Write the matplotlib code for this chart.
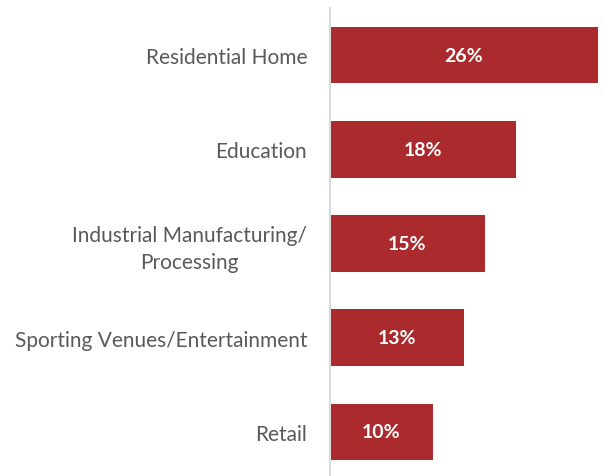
import matplotlib.pyplot as plt

categories = ["Residential Home", "Education", "Industrial Manufacturing/\nProcessing",
              "Sporting Venues/Entertainment", "Retail"]
shares = [26, 18, 15, 13, 10]
value_labels = ["26%", "18%", "15%", "13%", "10%"]

plt.rcParams['font.family'] = ['Lato', 'DejaVu Sans']

fig = plt.figure(figsize=(6.04, 4.77), dpi=100)
ax = fig.add_axes([330 / 604, -3 / 477, 268 / 604, 471 / 477])

bars = ax.barh(range(len(categories)), shares, height=0.6, color="#AB2A2D")
ax.set_xlim(0, 26)
ax.set_ylim(4.5, -0.5)

for b, lab in zip(bars, value_labels):
    ax.text(b.get_width() / 2, b.get_y() + b.get_height() / 2, lab,
            ha="center", va="center", color="white", fontsize=14, fontweight="bold")

ax.set_yticks(range(len(categories)))
ax.set_yticklabels(categories, fontsize=15, color="#595959", ha="right",
                   multialignment="center", linespacing=1.4)
ax.tick_params(axis="y", length=0, pad=16.5)
ax.set_xticks([])
for s in ["top", "right", "bottom"]:
    ax.spines[s].set_visible(False)
ax.spines["left"].set_color("#D9D9D9")
ax.spines["left"].set_linewidth(1.5)

fig.savefig("out.png", dpi=100)
